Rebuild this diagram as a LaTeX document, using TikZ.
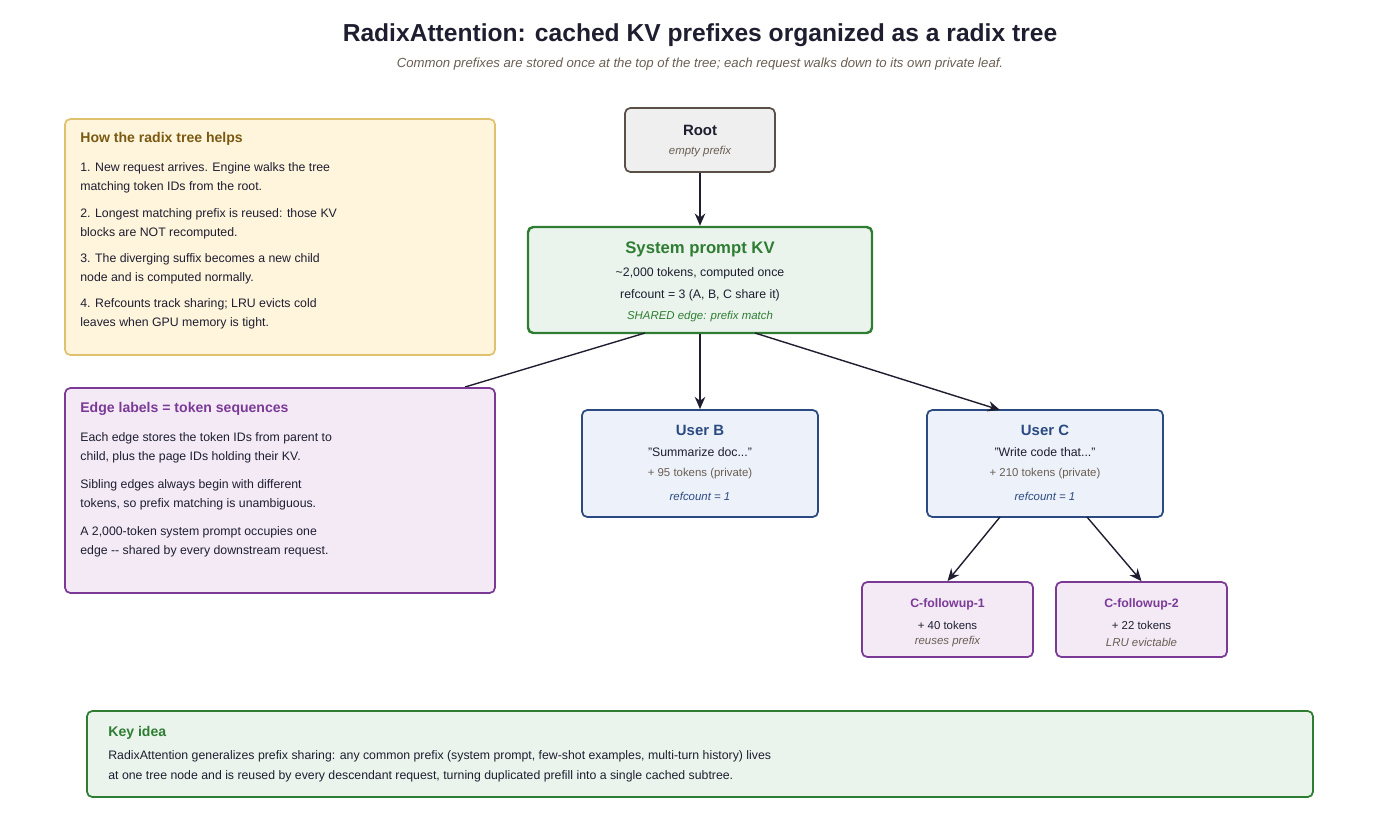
\documentclass[tikz,border=0pt]{standalone}
\usepackage{fontspec}
\setmainfont{Liberation Sans}
\usetikzlibrary{positioning, arrows.meta}
\definecolor{ink}{HTML}{1E1E30}
\definecolor{greyline}{HTML}{5A5048}
\definecolor{greyfill}{HTML}{EFEFEF}
\definecolor{grn}{HTML}{2E7D32}
\definecolor{grnfill}{HTML}{EAF4EC}
\definecolor{blu}{HTML}{2B4A82}
\definecolor{blufill}{HTML}{EDF2FA}
\definecolor{pur}{HTML}{7B3A96}
\definecolor{purfill}{HTML}{F3EAF6}
\definecolor{ylw}{HTML}{E0C16E}
\definecolor{ylwfill}{HTML}{FFF4DC}
\definecolor{brn}{HTML}{7A5A12}
\definecolor{muted}{HTML}{6A5E52}
\newcommand{\fs}[1]{\fontsize{#1}{#1}\selectfont}
\tikzset{
    box/.style = {draw, rounded corners=3pt, line width=1pt, inner sep=0pt},
    line/.style = {-{Stealth[length=7pt,width=6pt]}, line width=0.8pt, draw=ink},
    txt/.style = {inner sep=0pt, font=\fs{7}},
    ltxt/.style = {txt, anchor=west, text=ink}
}
\begin{document}
\begin{tikzpicture}[x=0.02cm, y=-0.02cm]
\useasboundingbox (0,0) rectangle (1400,819);

% title
\node[txt, font=\fs{14}\bfseries, text=ink] (title) at (700,35) {RadixAttention: cached KV prefixes organized as a radix tree};
\node[txt, font=\fs{7.5}\itshape, text=muted] (subtitle) at (700,64) {Common prefixes are stored once at the top of the tree; each request walks down to its own private leaf.};

% tree nodes
\node[box, draw=greyline, fill=greyfill, minimum width=150*0.02cm, minimum height=64*0.02cm] (root) at (700,140) {};
\node[txt, font=\fs{8.5}\bfseries, text=ink] at (700,130) {Root};
\node[txt, font=\fs{6.5}\itshape, text=muted] at (700,152) {empty prefix};

\node[box, draw=grn, fill=grnfill, line width=1.4pt, minimum width=344*0.02cm, minimum height=106*0.02cm] (sys) at (700,280) {};
\node[txt, font=\fs{9.5}\bfseries, text=grn] at (700,249) {System prompt KV};
\node[txt, text=ink] at (700,273) {\textasciitilde 2,000 tokens, computed once};
\node[txt, text=ink] at (700,295) {refcount = 3 (A, B, C share it)};
\node[txt, font=\fs{6.5}\itshape, text=grn] at (700,317) {SHARED edge: prefix match};

\node[box, draw=blu, fill=blufill, minimum width=236*0.02cm, minimum height=107*0.02cm] (userb) at (700,463.5) {};
\node[txt, font=\fs{8.5}\bfseries, text=blu] at (700,430) {User B};
\node[txt, text=ink] at (700,452) {"Summarize doc..."};
\node[txt, font=\fs{6.5}, text=muted] at (700,474) {+ 95 tokens (private)};
\node[txt, font=\fs{6.5}\itshape, text=blu] at (700,496) {refcount = 1};

\node[box, draw=blu, fill=blufill, minimum width=236*0.02cm, minimum height=107*0.02cm] (userc) at (1045,463.5) {};
\node[txt, font=\fs{8.5}\bfseries, text=blu] at (1045,430) {User C};
\node[txt, text=ink] at (1045,452) {"Write code that..."};
\node[txt, font=\fs{6.5}, text=muted] at (1045,474) {+ 210 tokens (private)};
\node[txt, font=\fs{6.5}\itshape, text=blu] at (1045,496) {refcount = 1};

\node[box, draw=pur, fill=purfill, minimum width=171*0.02cm, minimum height=75*0.02cm] (cf1) at (947.5,619.5) {};
\node[txt, font=\fs{7}\bfseries, text=pur] at (947.5,604) {C-followup-1};
\node[txt, font=\fs{6.5}, text=ink] at (947.5,625) {+ 40 tokens};
\node[txt, font=\fs{6.5}\itshape, text=muted] at (947.5,642) {reuses prefix};

\node[box, draw=pur, fill=purfill, minimum width=171*0.02cm, minimum height=75*0.02cm] (cf2) at (1141.5,619.5) {};
\node[txt, font=\fs{7}\bfseries, text=pur] at (1141.5,604) {C-followup-2};
\node[txt, font=\fs{6.5}, text=ink] at (1141.5,625) {+ 22 tokens};
\node[txt, font=\fs{6.5}\itshape, text=muted] at (1141.5,642) {LRU evictable};

% edges
\coordinate (hidden) at (465,387);
\draw[line width=0.8pt, draw=ink] (645,333) -- (hidden);
\draw[line] (root.south) -- (sys.north);
\draw[line] (sys.south) -- (userb.north);
\draw[line] (755,333) -- (1000,410);
\draw[line] (1000,517) -- (cf1.north);
\draw[line] (1087,517) -- (cf2.north);

% side panels
\node[box, draw=ylw, fill=ylwfill, minimum width=430*0.02cm, minimum height=236*0.02cm] (how) at (280,237) {};
\node[ltxt, font=\fs{8}\bfseries, text=brn] at (80,139) {How the radix tree helps};
\foreach \y/\t in {168/{1. New request arrives. Engine walks the tree}, 187/{matching token IDs from the root.},
    214/{2. Longest matching prefix is reused: those KV}, 233/{blocks are NOT recomputed.},
    259/{3. The diverging suffix becomes a new child}, 278/{node and is computed normally.},
    304/{4. Refcounts track sharing; LRU evicts cold}, 323/{leaves when GPU memory is tight.}}
    \node[ltxt] at (80,\y) {\t};

\node[box, draw=pur, fill=purfill, minimum width=430*0.02cm, minimum height=205*0.02cm] (edges) at (280,490.5) {};
\node[ltxt, font=\fs{8}\bfseries, text=pur] at (80,409) {Edge labels = token sequences};
\foreach \y/\t in {438/{Each edge stores the token IDs from parent to}, 457/{child, plus the page IDs holding their KV.},
    485/{Sibling edges always begin with different}, 504/{tokens, so prefix matching is unambiguous.},
    532/{A 2,000-token system prompt occupies one}, 551/{edge -{}- shared by every downstream request.}}
    \node[ltxt] at (80,\y) {\t};

\node[box, draw=grn, fill=grnfill, minimum width=1226*0.02cm, minimum height=86*0.02cm] (key) at (700,754) {};
\node[ltxt, font=\fs{8}\bfseries, text=grn] at (108,733) {Key idea};
\node[ltxt] at (108,756) {RadixAttention generalizes prefix sharing: any common prefix (system prompt, few-shot examples, multi-turn history) lives};
\node[ltxt] at (108,776) {at one tree node and is reused by every descendant request, turning duplicated prefill into a single cached subtree.};
\end{tikzpicture}
\end{document}
